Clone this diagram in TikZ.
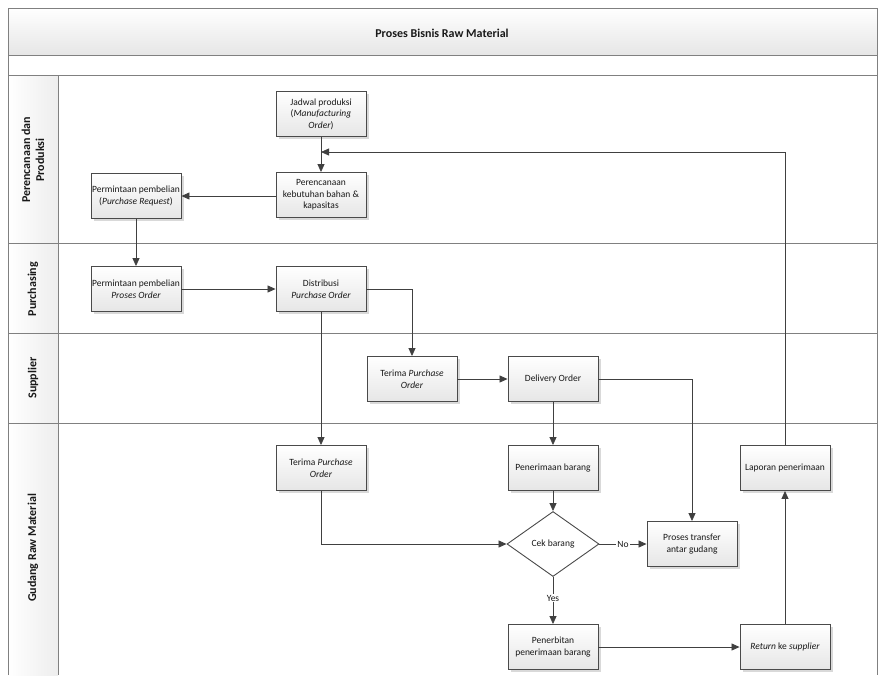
\documentclass[tikz,border=0pt]{standalone}
\usepackage{fontspec}
\setmainfont{Carlito}
\usetikzlibrary{arrows.meta,shapes.geometric,shadows}

\definecolor{edgecol}{HTML}{404040}
\definecolor{boxline}{HTML}{4A4A4A}
\definecolor{framecol}{HTML}{808080}
\definecolor{bandcol}{HTML}{E6E6E6}

\tikzset{
  procbox/.style={draw=boxline, line width=0.9pt, top color=white, bottom color=bandcol,
    minimum width=90pt, minimum height=45pt, align=center, inner sep=1pt,
    font=\fontsize{9.5}{11.5}\selectfont, text=black!90,
    drop shadow={shadow xshift=2.5pt, shadow yshift=-2.5pt, fill=black!25, opacity=0.6}},
  decision/.style={diamond, draw=boxline, line width=0.9pt, fill=white, aspect=1.42,
    minimum width=92pt, minimum height=65pt, inner sep=0pt,
    font=\fontsize{9.5}{11.5}\selectfont, text=black!90},
  flow/.style={draw=edgecol, line width=0.8pt, -{Triangle[length=8pt,width=7pt]}},
  lanerule/.style={draw=framecol, line width=0.9pt},
  lanelabel/.style={rotate=90, align=center, font=\fontsize{12}{14}\selectfont\bfseries, text=black!90},
  flowlabel/.style={fill=white, inner sep=1pt, font=\fontsize{9.5}{11.5}\selectfont, text=black!90}
}

\begin{document}
\begin{tikzpicture}[x=1pt,y=-1pt]
  \useasboundingbox (0,0) rectangle (878,675);

  % title band and spacer band
  \path[top color=white, bottom color=bandcol] (8,8) rectangle (877,55);
  \path[fill=white] (8,55) rectangle (877,75);
  % lane header column
  \path[left color=white, right color=bandcol!70] (8,75) rectangle (58,675);

  \draw[lanerule] (8,675) -- (8,8) -- (877,8) -- (877,675);
  \draw[lanerule] (8,55) -- (877,55);
  \draw[lanerule] (8,75) -- (877,75);
  \draw[lanerule] (8,243) -- (877,243);
  \draw[lanerule] (8,333) -- (877,333);
  \draw[lanerule] (8,423) -- (877,423);
  \draw[lanerule] (58,75) -- (58,675);

  \node[font=\fontsize{12}{14}\selectfont\bfseries, text=black!90] (title) at (442,33) {Proses Bisnis Raw Material};

  \node[lanelabel] (lane1) at (33,160) {Perencanaan dan\\Produksi};
  \node[lanelabel] (lane2) at (33,289) {Purchasing};
  \node[lanelabel] (lane3) at (33,378) {Supplier};
  \node[lanelabel] (lane4) at (33,548) {Gudang Raw Material};

  % process steps
  \node[procbox] (jad) at (321,114) {Jadwal produksi\\(\textit{Manufacturing}\\\textit{Order})};
  \node[procbox] (ren) at (321,195) {Perencanaan\\kebutuhan bahan \&\\kapasitas};
  \node[procbox] (pr)  at (136,196) {Permintaan pembelian\\(\textit{Purchase Request})};
  \node[procbox] (po)  at (136,289) {Permintaan pembelian\\\textit{Proses Order}};
  \node[procbox] (dist) at (321,289) {Distribusi\\\textit{Purchase Order}};
  \node[procbox] (tps) at (412,379) {Terima \textit{Purchase}\\\textit{Order}};
  \node[procbox] (del) at (553,379) {Delivery Order};
  \node[procbox] (tpg) at (321,468) {Terima \textit{Purchase}\\\textit{Order}};
  \node[procbox] (pen) at (553,468) {Penerimaan barang};
  \node[procbox] (lap) at (785,468) {Laporan penerimaan};
  \node[decision] (cek) at (553,544) {Cek barang};
  \node[procbox] (trf) at (692,544) {Proses transfer\\antar gudang};
  \node[procbox] (pbt) at (553,647) {Penerbitan\\penerimaan barang};
  \node[procbox] (ret) at (785,647) {\textit{Return} ke \textit{supplier}};

  \coordinate (fb) at (321,152);

  % connectors
  \draw[flow] (jad) -- (ren);
  \draw[flow] (lap.north) |- (fb);
  \draw[flow] (ren.west |- pr.east) -- (pr.east);
  \draw[flow] (pr) -- (po);
  \draw[flow] (po) -- (dist);
  \draw[flow] (dist.east) -| (tps.north);
  \draw[flow] (dist) -- (tpg);
  \draw[flow] (tps) -- (del);
  \draw[flow] (del.east) -| (trf.north);
  \draw[flow] (del) -- (pen);
  \draw[flow] (pen) -- (cek);
  \draw[flow] (tpg.south) |- (cek.west);
  \draw[flow] (cek.east) -- node[flowlabel] {No} (trf.west);
  \draw[flow] (cek.south) -- node[flowlabel, pos=0.45] {Yes} (pbt.north);
  \draw[flow] (pbt) -- (ret);
  \draw[flow] (ret) -- (lap);
\end{tikzpicture}
\end{document}
